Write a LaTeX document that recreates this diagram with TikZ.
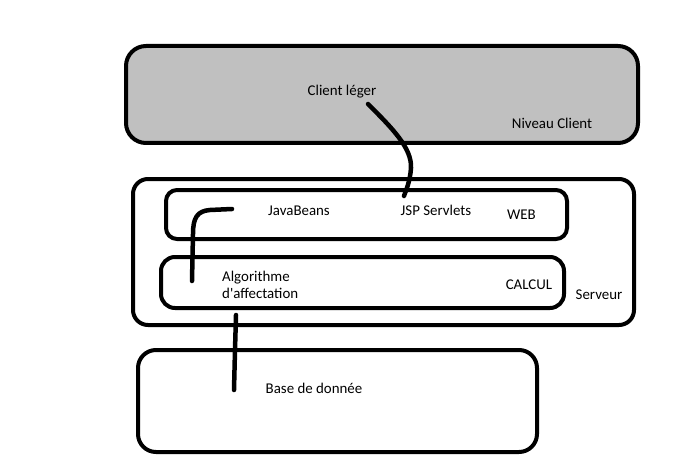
\documentclass[tikz,border=0pt]{standalone}
\usepackage{fontspec}
\setmainfont{Carlito}
\begin{document}
\begin{tikzpicture}[x=1pt,y=-1pt,
  box/.style={draw=black,line width=4pt,inner sep=0pt},
  lbl/.style={inner sep=0pt,font=\fontsize{14.9}{17.5}\selectfont},
  wire/.style={draw=black,line width=4.5pt,line cap=round,line join=round}]
\useasboundingbox[fill=white] (0,0) rectangle (695,473);
\definecolor{clientgray}{RGB}{192,192,192}
% boxes
\node[box,fill=clientgray,rounded corners=20pt,minimum width=512pt,minimum height=97pt] (client) at (382,94.5) {};
\node[box,rounded corners=15pt,minimum width=501pt,minimum height=146pt] (serveur) at (383.5,252) {};
\node[box,rounded corners=11pt,minimum width=401pt,minimum height=49pt] (web) at (366.5,214.5) {};
\node[box,rounded corners=14pt,minimum width=403pt,minimum height=51pt] (calcul) at (362.5,282.5) {};
\node[box,rounded corners=18pt,minimum width=399pt,minimum height=102pt] (bdd) at (337.5,401) {};
% labels
\node[lbl] (tclient) at (342,92) {Client léger};
\node[lbl] (tniveau) at (552,123) {Niveau Client};
\node[lbl] (tjava) at (299,211) {JavaBeans};
\node[lbl] (tjsp) at (436,210) {JSP Servlets};
\node[lbl] (tweb) at (521.5,215) {WEB};
\node[lbl,anchor=west,align=left] (talgo) at (222,285) {Algorithme\\d\textquotesingle affectation};
\node[lbl] (tcalcul) at (529,285) {CALCUL};
\node[lbl] (tserveur) at (599,295) {Serveur};
\node[lbl] (tbdd) at (314,388) {Base de donnée};
% connector ends
\coordinate (a1) at (368,104);
\coordinate (a2) at (404,196);
\coordinate (b1) at (232,209);
\coordinate (b2) at (192,281);
\coordinate (d1) at (236,315);
\coordinate (d2) at (234,390);
% connectors
\draw[wire] (a1) .. controls (392,128) and (412,148) .. (411,168) .. controls (410,182) and (406,190) .. (a2);
\draw[wire] (b1) -- (210,210) .. controls (197,211) and (193,218) .. (193,234) -- (b2);
\draw[wire] (d1) -- (235,350) -- (d2);
\end{tikzpicture}
\end{document}
